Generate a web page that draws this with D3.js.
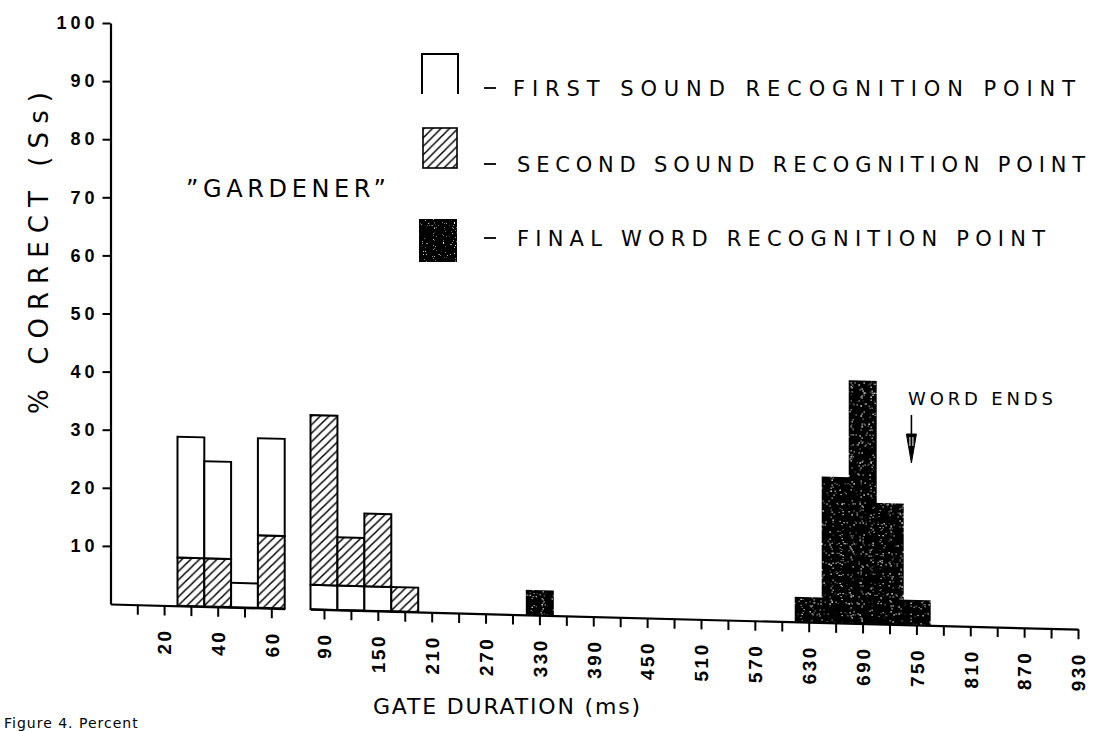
<!DOCTYPE html>
<html>
<head>
<meta charset="utf-8">
<script src="https://cdn.jsdelivr.net/npm/d3@7"></script>
<style>
  html, body { margin: 0; padding: 0; background: #fff; }
  svg { display: block; }
</style>
</head>
<body>
<svg id="chart" width="1101" height="731"></svg>
<script>
// Gate durations (ms) that received responses
const gates = [30, 40, 50, 60, 90, 120, 150, 180, 330, 630, 660, 690, 720, 750];
// % of subjects reaching each recognition point at that gate
const firstSound  = [20.8, 16.7, 4.2, 16.7, 4.2, 4.2, 4.2, 0, 0, 0, 0, 0, 0, 0];
const secondSound = [8.3, 8.3, 0, 12.5, 29.2, 8.3, 12.5, 4.2, 0, 0, 0, 0, 0, 0];
const finalWord   = [0, 0, 0, 0, 0, 0, 0, 0, 4.2, 4.2, 25.0, 41.7, 20.8, 4.2];

const yTicks = [10, 20, 30, 40, 50, 60, 70, 80, 90, 100];
const leftTicks = [10, 20, 30, 40, 50, 60];
const leftTickLabels = [20, 40, 60];
const rightTicks = [90, 120, 150, 180, 210, 240, 270, 300, 330, 360, 390, 420, 450, 480,
                    510, 540, 570, 600, 630, 660, 690, 720, 750, 780, 810, 840, 870, 900, 930];
const rightTickLabels = [90, 150, 210, 270, 330, 390, 450, 510, 570, 630, 690, 750, 810, 870, 930];

const legendLabels = ["FIRST SOUND RECOGNITION POINT",
                      "SECOND SOUND RECOGNITION POINT",
                      "FINAL WORD RECOGNITION POINT"];

const wordEnd = 750;

const svg = d3.select("#chart");
const plotFont = "'DejaVu Sans', 'Liberation Sans', sans-serif";
const digitFont = "'Liberation Sans', Arial, sans-serif";

svg.append("rect").attr("width", 1101).attr("height", 731).attr("fill", "#fff");

const defs = svg.append("defs");
// diagonal hatching for the second-sound bars
const hatch = defs.append("pattern")
  .attr("id", "hatch").attr("patternUnits", "userSpaceOnUse")
  .attr("width", 8.5).attr("height", 8.5);
hatch.append("rect").attr("width", 8.5).attr("height", 8.5).attr("fill", "#fff");
hatch.append("path").attr("d", "M-2,2 L2,-2 M0,8.5 L8.5,0 M6.5,10.5 L10.5,6.5")
  .attr("stroke", "#000").attr("stroke-width", 1.5);

// sparse white specks on the solid bars
const speck = defs.append("filter").attr("id", "speckle")
  .attr("x", 0).attr("y", 0).attr("width", 1).attr("height", 1);
speck.append("feTurbulence").attr("type", "fractalNoise")
  .attr("baseFrequency", 0.9).attr("numOctaves", 1).attr("seed", 7).attr("result", "noise");
speck.append("feColorMatrix").attr("in", "noise").attr("type", "matrix")
  .attr("values", "0 0 0 0 1  0 0 0 0 1  0 0 0 0 1  9 0 0 0 -6.0").attr("result", "dots");
speck.append("feComposite").attr("in", "dots").attr("in2", "SourceGraphic")
  .attr("operator", "in").attr("result", "dotsIn");
const merge = speck.append("feMerge");
merge.append("feMergeNode").attr("in", "SourceGraphic");
merge.append("feMergeNode").attr("in", "dotsIn");

// scales: broken time axis (10 ms bins, then 30 ms bins)
const X0 = 110.5, Y0 = 604;
const xL = d3.scaleLinear().domain([0, 65]).range([X0, X0 + 65 * 2.68]);
const xR = d3.scaleLinear().domain([75, 930]).range([310.5, 1078]);
const y = d3.scaleLinear().domain([0, 100]).range([Y0, 23]);

// the baseline of the plotted sheet runs slightly downhill
const plot = svg.append("g")
  .attr("transform", `translate(${X0},${Y0}) skewY(1.49) translate(${-X0},${-Y0})`);

// bars
const bars = plot.append("g").attr("stroke", "#000").attr("stroke-width", 2);
gates.forEach((g, i) => {
  const left = g <= 60;
  const xs = left ? xL : xR;
  const w = left ? 10 : 30;
  const order = left
    ? [["second", secondSound[i]], ["first", firstSound[i]]]
    : [["first", firstSound[i]], ["second", secondSound[i]], ["final", finalWord[i]]];
  let base = 0;
  order.forEach(([key, v]) => {
    if (!v) return;
    const r = bars.append("rect")
      .attr("x", xs(g - w / 2)).attr("width", xs(g + w / 2) - xs(g - w / 2))
      .attr("y", y(base + v)).attr("height", y(base) - y(base + v))
      .attr("fill", key === "first" ? "#fff" : key === "second" ? "url(#hatch)" : "#050505");
    if (key === "final") r.attr("filter", "url(#speckle)");
    base += v;
  });
});

// x axes
function styleXAxis(sel) {
  sel.select(".domain").attr("stroke-width", 2.2);
  sel.selectAll(".tick line").attr("stroke-width", 2);
  sel.selectAll(".tick text")
    .attr("transform", "rotate(-90)")
    .attr("text-anchor", "end")
    .attr("x", -23).attr("y", 0).attr("dy", "0.36em")
    .attr("font-family", digitFont).attr("font-weight", "bold")
    .attr("font-size", 19).attr("letter-spacing", 2.5).attr("fill", "#000");
}
plot.append("g").attr("transform", `translate(0,${Y0})`)
  .call(d3.axisBottom(xL).tickValues(leftTicks).tickSize(10).tickSizeOuter(0)
    .tickFormat(d => leftTickLabels.includes(d) ? d : ""))
  .call(styleXAxis);
plot.append("g").attr("transform", `translate(0,${Y0})`)
  .call(d3.axisBottom(xR).tickValues(rightTicks).tickSize(10).tickSizeOuter(0)
    .tickFormat(d => rightTickLabels.includes(d) ? d : ""))
  .call(styleXAxis);

// y axis
const yAx = svg.append("g").attr("transform", `translate(${X0},0)`)
  .call(d3.axisLeft(y).tickValues(yTicks).tickSize(8).tickSizeOuter(0).tickPadding(4));
yAx.select(".domain").attr("stroke-width", 2.2);
yAx.selectAll(".tick line").attr("stroke-width", 2);
yAx.selectAll(".tick text")
  .attr("font-family", digitFont).attr("font-weight", "bold")
  .attr("font-size", 18).attr("letter-spacing", 4).attr("fill", "#000");

// axis titles
svg.append("text")
  .attr("transform", "translate(48,253) rotate(-90)")
  .attr("text-anchor", "middle")
  .attr("font-family", plotFont).attr("font-size", 26)
  .attr("textLength", 322).attr("lengthAdjust", "spacing")
  .text("% CORRECT (Ss)");

svg.append("text")
  .attr("x", 373).attr("y", 714)
  .attr("font-family", plotFont).attr("font-size", 22)
  .attr("textLength", 267).attr("lengthAdjust", "spacing")
  .text("GATE DURATION (ms)");

// word label
svg.append("text")
  .attr("x", 186).attr("y", 197)
  .attr("font-family", plotFont).attr("font-size", 24)
  .attr("textLength", 200).attr("lengthAdjust", "spacing")
  .text("\u201DGARDENER\u201D");

// legend
const legendRows = [96, 172, 246];
const lg = svg.append("g");
lg.append("path").attr("d", "M422,94 V54 H458 V94")
  .attr("fill", "none").attr("stroke", "#000").attr("stroke-width", 2);
lg.append("rect").attr("x", 423).attr("y", 128).attr("width", 34).attr("height", 40)
  .attr("fill", "url(#hatch)").attr("stroke", "#000").attr("stroke-width", 1.6);
lg.append("rect").attr("x", 419).attr("y", 219).attr("width", 38).attr("height", 43)
  .attr("fill", "#050505").attr("filter", "url(#speckle)");
const lgLen = [562, 568, 528];
legendLabels.forEach((t, i) => {
  lg.append("line").attr("x1", 484).attr("x2", 496)
    .attr("y1", legendRows[i] - 8).attr("y2", legendRows[i] - 8)
    .attr("stroke", "#000").attr("stroke-width", 1.8);
  lg.append("text").attr("x", i === 0 ? 513 : 517).attr("y", legendRows[i])
    .attr("font-family", plotFont).attr("font-size", 21)
    .attr("textLength", lgLen[i]).attr("lengthAdjust", "spacing")
    .text(t);
});

// word-end marker
const xe = xR(wordEnd) - 5;
svg.append("text").attr("x", 908).attr("y", 405)
  .attr("font-family", plotFont).attr("font-size", 18)
  .attr("textLength", 145).attr("lengthAdjust", "spacing")
  .text("WORD ENDS");
svg.append("line").attr("x1", xe).attr("x2", xe).attr("y1", 415).attr("y2", 436)
  .attr("stroke", "#000").attr("stroke-width", 1.6);
svg.append("path").attr("d", `M${xe - 5},434 L${xe + 5},434 L${xe},463 Z`)
  .attr("fill", "#000").attr("stroke", "#000").attr("stroke-width", 1);
svg.append("path").attr("d", `M${xe - 1.5},437 V446 M${xe + 1.5},437 V446`)
  .attr("stroke", "#fff").attr("stroke-width", 1);

// caption line at the foot of the page
svg.append("text").attr("x", 4).attr("y", 728)
  .attr("font-family", plotFont).attr("font-size", 14)
  .attr("letter-spacing", 1)
  .text("Figure 4.  Percent");
</script>
</body>
</html>
